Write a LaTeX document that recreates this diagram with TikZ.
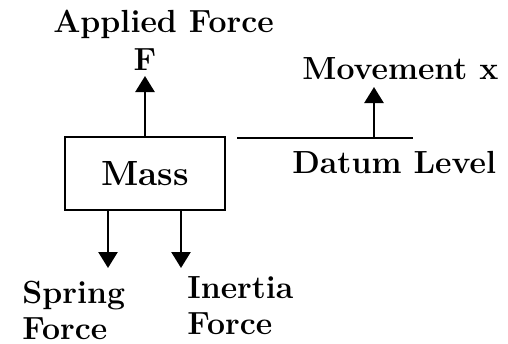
\documentclass[tikz,border=0pt]{standalone}
\usetikzlibrary{arrows.meta,positioning}
\tikzset{
	lbl/.style={font=\fontsize{16}{18}\selectfont\bfseries, inner sep=0pt},
	massbox/.style={draw, line width=1.25pt, minimum width=80pt, minimum height=36.5pt, inner sep=0pt,
		font=\fontsize{17.5}{20}\selectfont\bfseries},
	force/.style={line width=1.25pt, -{Triangle[width=9.5pt,length=8pt]}}
}
\begin{document}
\begin{tikzpicture}[x=0.5pt, y=-0.5pt]
	\useasboundingbox (0,0) rectangle (508,343);
	% Bloc et forces
	\node[massbox] (mass) at (145,173.5) {Mass};
	\coordinate (Ftip) at (145,76);
	\draw[force] (mass.north) -- (Ftip);
	\node[lbl, anchor=base] (F) at (145,70) {F};
	\node[lbl, anchor=base] (applied) at (163.5,32) {Applied Force};

	\coordinate (springtip) at (108,268);
	\coordinate (inertiatip) at (181,268);
	\draw[force] (mass.south -| springtip) -- (springtip);
	\draw[force] (mass.south -| inertiatip) -- (inertiatip);
	\node[lbl, anchor=north west, align=left] (spring) at (22,281) {Spring\\Force};
	\node[lbl, anchor=north west, align=left] (inertia) at (187,276) {Inertia\\Force};

	% Niveau de référence
	\coordinate (datumL) at (237,138);
	\coordinate (datumR) at (413,138);
	\coordinate (datumM) at (374,138);
	\coordinate (movetip) at (374,87);
	\draw[line width=1.25pt] (datumL) -- (datumR);
	\draw[force] (datumM) -- (movetip);
	\node[lbl, anchor=base west] (move) at (302,79) {Movement x};
	\node[lbl, anchor=base west] (datum) at (292,173) {Datum Level};
\end{tikzpicture}
\end{document}
